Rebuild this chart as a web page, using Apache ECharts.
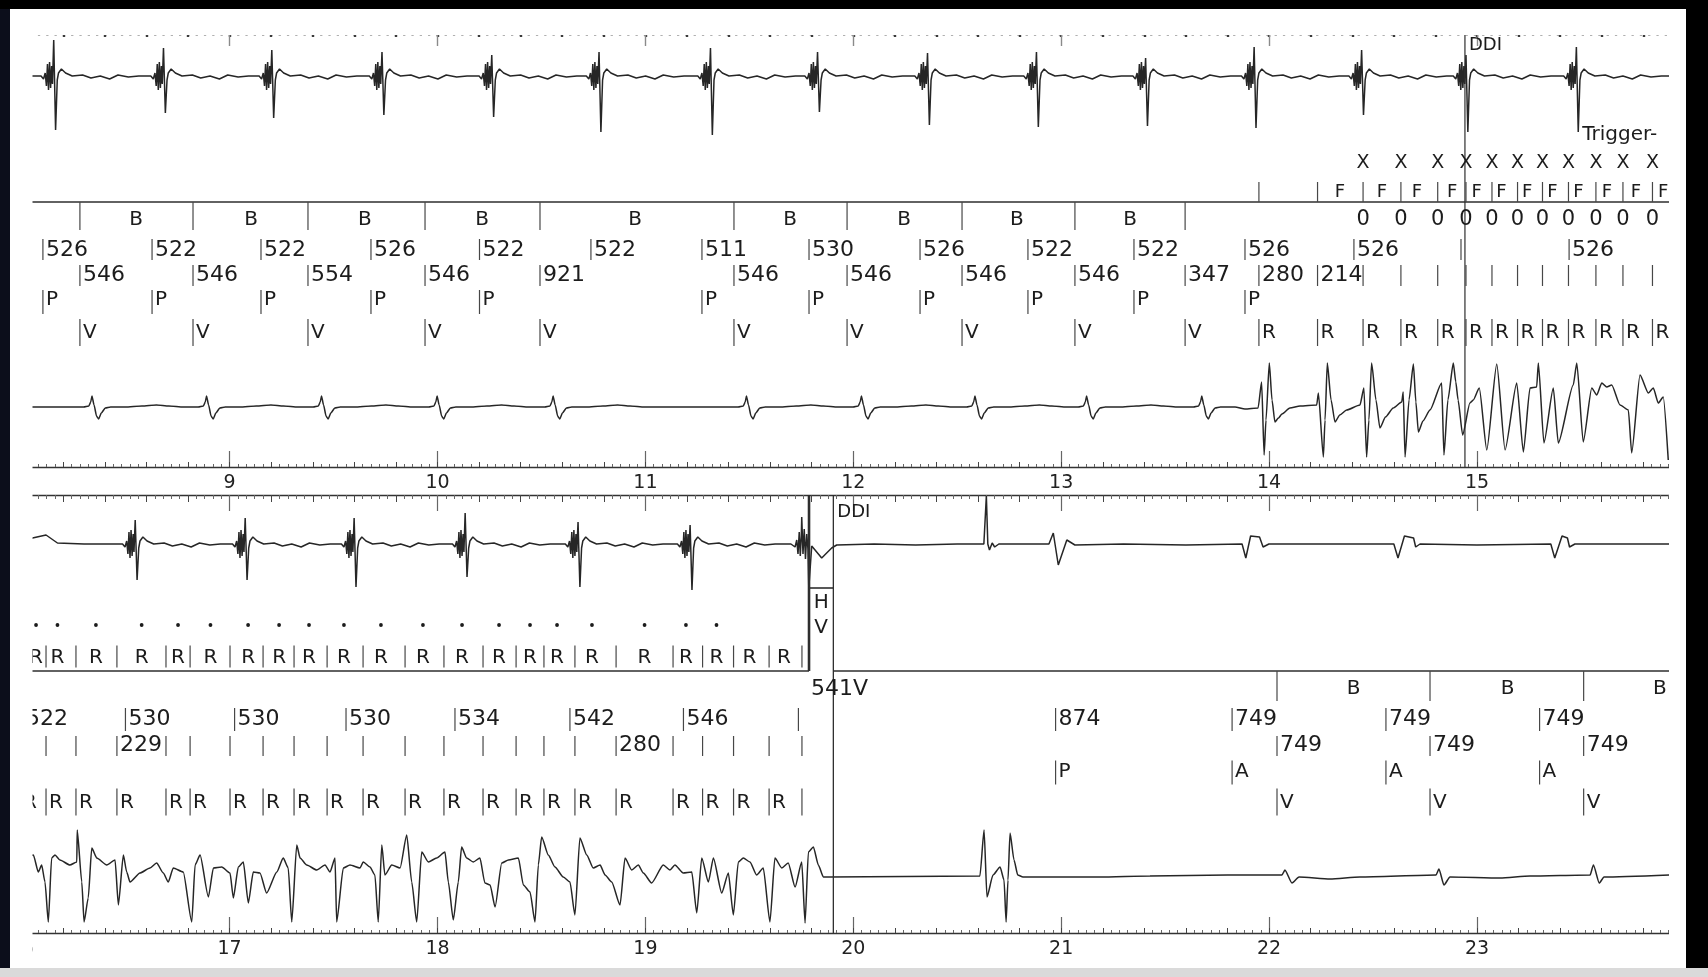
<!DOCTYPE html>
<html>
<head>
<meta charset="utf-8">
<title>Pacemaker strip: tachycardia detection and DDI mode switch</title>
<script src="https://cdn.jsdelivr.net/npm/echarts@6/dist/echarts.min.js"></script>
<style>
  html, body { margin: 0; padding: 0; background: #000; }
  #chart { width: 1708px; height: 977px; }
</style>
</head>
<body>
<div id="chart"></div>
<script>
// ---------------- Time windows of the two strips (s) ----------------
const strip1Range = [8, 16];
const strip2Range = [16, 24];

// ---------------- Paced complex morphology ----------------
// offsets in ms from the main stimulus deflection, amplitude in trace units
const pacedLead = [[-70, 0], [-58, -3], [-50, 3], [-44, -10], [-39, 12], [-34, -14], [-29, 14], [-24, -12], [-19, 10], [-15, -8]];
const pacedUpMs = -9;
const pacedTail = [[8, -4], [14, 3], [28, 7], [48, 3], [80, 0], [130, 1], [170, -2], [215, 0], [260, -3], [300, 1], [350, -1], [400, 0]];

// Sensed (narrow) ventricular complex, offsets in ms from the R peak
const sensedQrs = [[-40, 0], [-15, 1], [-6, 5], [0, 11], [10, 2], [22, -9], [32, -12], [45, -6], [64, -1], [90, 0], [160, 0], [240, 1], [310, 2], [370, 1], [440, 0]];

// ---------------- Strip 1 upper lead ----------------
const ecg1Beats = [8.163, 8.691, 9.212, 9.742, 10.270, 10.786, 11.322, 11.837, 12.366, 12.890, 13.415, 13.937, 14.454, 14.956, 15.487];
const ecg1Up    = [36, 28, 26, 24, 21, 24, 28, 24, 23, 24, 18, 29, 26, 21, 29];
const ecg1Down  = [-54, -37, -42, -39, -41, -56, -59, -36, -49, -51, -50, -52, -39, -56, -56];

// ---------------- Strip 1 lower lead ----------------
const ecg2SensedPeaks = [8.338, 8.889, 9.442, 9.998, 10.556, 11.486, 12.039, 12.585, 13.122, 13.676];
const ecg2Tachy = [
  [13.884, -2], [13.947, -1], [13.964, 25], [13.976, -48], [13.985, -13], [14.001, 44], [14.014, 7], [14.028, -15],
  [14.045, -11], [14.062, -7], [14.100, -1], [14.149, 1], [14.229, 2], [14.237, 14], [14.261, -50], [14.269, -13], [14.280, 44],
  [14.298, 7], [14.317, -15], [14.340, -8], [14.373, -3], [14.437, 2], [14.456, 19], [14.469, -50], [14.480, -13], [14.493, 44],
  [14.514, 7], [14.533, -21], [14.560, -10], [14.597, -1], [14.638, 5], [14.645, 15], [14.654, -50], [14.673, 7], [14.694, 43],
  [14.706, 5], [14.718, -25], [14.740, -14], [14.774, -3], [14.830, 24], [14.841, -48], [14.860, 7], [14.886, 44], [14.898, 25], [14.909, 7], [14.931, -28],
  [14.966, 4], [14.982, 7], [15.011, 19], [15.047, -43], [15.095, 43], [15.135, -43], [15.191, 24], [15.223, -45],
  [15.255, 19], [15.287, 20], [15.295, 44], [15.322, -36], [15.367, 19], [15.391, -36], [15.463, 22], [15.480, 44],
  [15.511, -35], [15.552, 19], [15.576, 12], [15.600, 24], [15.624, 20], [15.648, 22], [15.688, 2], [15.728, -3],
  [15.744, -46], [15.784, 32], [15.824, 14], [15.848, 19], [15.872, 4], [15.896, 10], [15.920, -53]
];

// ---------------- Strip 2 upper lead ----------------
const ecg3Lead  = [[15.99, 5], [16.052, 6], [16.117, 9], [16.172, 1], [16.30, 0]];
const ecg3Beats = [16.555, 17.084, 17.608, 18.142, 18.685, 19.224];
const ecg3Up    = [24, 26, 26, 31, 22, 19];
const ecg3Down  = [-36, -36, -43, -33, -43, -46];
const ecg3Tail = [
  [19.700, 0], [19.720, -3], [19.728, 4], [19.734, -10], [19.740, 12], [19.745, -12], [19.750, 8], [19.752, 27],
  [19.758, -10], [19.764, 15], [19.770, -15], [19.776, 10], [19.782, -5], [19.786, -44], [19.800, -2], [19.816, -6],
  [19.848, -14], [19.896, -4], [19.920, -1], [20.100, 0], [20.300, -1], [20.500, 0], [20.628, 0], [20.640, 48],
  [20.647, 0], [20.655, -6], [20.668, 1], [20.680, -3], [20.700, 0], [20.941, 0], [20.962, 11], [20.986, -21],
  [21.027, 4], [21.066, -1], [21.300, 0], [21.600, -1], [21.870, 0], [21.888, -14], [21.911, 8], [21.954, 7],
  [21.971, -3], [21.999, 0], [22.300, 0], [22.600, 0], [22.620, -14], [22.651, 8], [22.695, 6], [22.705, -3],
  [22.726, 0], [23.000, -1], [23.355, 0], [23.374, -14], [23.409, 8], [23.435, 6], [23.445, -3], [23.471, 0], [23.924, 0]
];

// ---------------- Strip 2 lower lead ----------------
const ecg4 = [
  [15.99, 10], [16.056, 15], [16.080, -2], [16.096, 5], [16.112, -12], [16.128, -52], [16.144, 12], [16.160, 15],
  [16.184, 10], [16.232, 5], [16.265, 8], [16.267, 40], [16.289, -12], [16.300, -52], [16.320, -28], [16.337, 22],
  [16.361, 12], [16.409, 5], [16.449, 10], [16.465, -35], [16.489, 15], [16.505, -2], [16.521, -12], [16.569, -3],
  [16.617, 2], [16.649, 7], [16.681, -3], [16.705, -12], [16.729, 2], [16.777, -2], [16.818, -52], [16.834, 5],
  [16.858, 15], [16.898, -27], [16.922, 2], [16.962, 3], [17.002, -3], [17.018, -28], [17.042, 3], [17.066, 8],
  [17.090, -33], [17.114, -2], [17.146, -3], [17.178, -23], [17.227, -2], [17.258, 12], [17.282, 2], [17.299, -52],
  [17.323, 25], [17.339, 12], [17.371, 5], [17.419, 0], [17.459, 5], [17.483, -2], [17.507, 12], [17.515, -52],
  [17.547, 2], [17.579, 5], [17.627, 2], [17.643, 8], [17.675, 3], [17.699, -5], [17.715, -52], [17.732, 25],
  [17.747, -5], [17.780, 5], [17.820, 2], [17.852, 35], [17.876, -12], [17.900, -52], [17.924, 18], [17.956, 8],
  [17.996, 12], [18.036, 18], [18.052, -12], [18.076, -50], [18.100, -12], [18.116, 23], [18.140, 12], [18.172, 8],
  [18.204, 12], [18.228, -13], [18.253, -15], [18.277, -37], [18.309, 7], [18.341, 10], [18.389, 12], [18.413, -15],
  [18.445, -22], [18.469, -52], [18.485, 5], [18.501, 33], [18.533, 15], [18.565, 3], [18.605, -7], [18.637, -12],
  [18.661, -45], [18.685, 32], [18.718, 15], [18.749, 2], [18.782, 5], [18.806, -5], [18.838, -12], [18.878, -35],
  [18.902, 12], [18.934, 0], [18.966, 5], [18.990, -3], [19.030, -13], [19.086, 5], [19.118, 0], [19.142, 5],
  [19.182, -3], [19.223, -2], [19.247, -43], [19.271, 12], [19.303, -12], [19.327, 12], [19.367, -23], [19.399, -3],
  [19.423, -45], [19.447, 8], [19.471, 12], [19.503, 8], [19.535, -5], [19.567, 2], [19.599, -52], [19.623, 12],
  [19.656, 2], [19.687, 7], [19.720, -17], [19.752, 8], [19.768, -53], [19.784, 18], [19.808, 23], [19.832, 5],
  [19.856, -7], [19.888, -7], [20.609, -6], [20.629, 40], [20.643, -27], [20.672, -5], [20.706, 3], [20.725, -10],
  [20.735, -52], [20.744, -10], [20.754, 37], [20.773, 10], [20.791, -5], [20.816, -7], [21.187, -7], [21.427, -6],
  [21.800, -5], [22.062, -5], [22.076, 0], [22.110, -13], [22.144, -7], [22.293, -9], [22.437, -7], [22.803, -5],
  [22.817, 1], [22.841, -15], [22.870, -7], [23.111, -8], [23.255, -6], [23.544, -5], [23.560, 5], [23.588, -13],
  [23.611, -7], [23.924, -5]
];

// ---------------- Strip 1 marker channel ----------------
const s1AtrialTimes     = [8.102, 8.627, 9.151, 9.680, 10.202, 10.738, 11.272, 11.787, 12.321, 12.840, 13.350, 13.884, 14.408, 14.923, 15.443];
const s1AtrialIntervals = ['526', '522', '522', '526', '522', '522', '511', '530', '526', '522', '522', '526', '526', '', '526'];
const s1AtrialMarks     = ['P', 'P', 'P', 'P', 'P', '', 'P', 'P', 'P', 'P', 'P', 'P', '', '', ''];
const s1VentTimes       = [8.280, 8.824, 9.377, 9.940, 10.493, 11.426, 11.970, 12.523, 13.066, 13.596];
const s1VentIntervals   = ['546', '546', '554', '546', '921', '546', '546', '546', '546', '347'];
const s1BlankingCentres = [8.550, 9.103, 9.651, 10.214, 10.950, 11.696, 12.244, 12.787, 13.331];
const s1SenseTimes      = [13.951, 14.233, 14.452, 14.634, 14.811, 14.947, 15.072, 15.195, 15.315, 15.440, 15.572, 15.702, 15.844];
const s1SenseIntervals  = ['280', '214', '', '', '', '', '', '', '', '', '', '', ''];
const s1FibCentres      = [14.341, 14.543, 14.711, 14.880, 14.998, 15.118, 15.241, 15.363, 15.488, 15.625, 15.765, 15.895];
const s1CountedTimes    = s1SenseTimes.slice(2);
const s1ModeSwitch      = 14.942;

// ---------------- Strip 2 marker channel ----------------
const s2Ticks           = [15.992, 16.117, 16.261, 16.458, 16.694, 16.810, 17.002, 17.161, 17.310, 17.469, 17.642, 17.844, 18.031, 18.219, 18.378, 18.512, 18.661, 18.859, 19.133, 19.275, 19.424, 19.595, 19.753];
const s2TickIntervals   = ['', '', '', '229', '', '', '', '', '', '', '', '', '', '', '', '', '', '280', '', '', '', '', ''];
const s2SenseCentres    = [16.069, 16.172, 16.357, 16.577, 16.752, 16.908, 17.089, 17.238, 17.382, 17.550, 17.728, 17.930, 18.118, 18.296, 18.445, 18.575, 18.743, 18.996, 19.195, 19.342, 19.501, 19.667];
const s2DottedCount     = 20;
const s2AtrialTimes     = [16.006, 16.499, 17.024, 17.560, 18.084, 18.637, 19.183, 19.736, 20.973, 21.822, 22.562, 23.301];
const s2AtrialIntervals = ['522', '530', '530', '530', '534', '542', '546', '', '874', '749', '749', '749'];
const s2AtrialMarks     = ['', '', '', '', '', '', '', '', 'P', 'A', 'A', 'A'];
const s2VentTimes       = [22.038, 22.774, 23.513];
const s2VentIntervals   = ['749', '749', '749'];
const s2BlankingCentres = [22.407, 23.147, 23.879];
const s2HvWindow        = [19.787, 19.904];
const s2HvValue         = '541V';

// ---------------- Look ----------------
const INK = '#1c1c1c';
const TRACE = '#262626';
const TICK = '#474747';
const FONT = '"DejaVu Sans", "Liberation Sans", sans-serif';
const fNum = '22px ' + FONT;
const fLet = '20px ' + FONT;
const fF = '18px ' + FONT;
const fX = '19px ' + FONT;
const fZero = '21px ' + FONT;
const fSmall = '18px ' + FONT;

// Row positions inside each marker channel (px below the channel top)
const rows1 = { ddi: 10, trigger: 100, x: 128, f: 157, line: 167, b: 185, aNum: 215, vNum: 240, p: 265, v: 298, end: 432 };
const rows2 = { ddi: 17, hvTop: 93, h: 108, hv: 133, dot: 130, r: 162.5, line: 176, b: 194, aNum: 224, vNum: 250, p: 276.5, v: 307.5, end: 438 };

// ---------------- Builders ----------------
const r4 = v => Math.round(v * 10000) / 10000;

function pacedTrace(times, ups, downs) {
  const pts = [];
  times.forEach((t, i) => {
    pacedLead.forEach(([ms, a]) => pts.push([r4(t + ms / 1000), a]));
    pts.push([r4(t + pacedUpMs / 1000), ups[i]]);
    pts.push([t, downs[i]]);
    pacedTail.forEach(([ms, a]) => pts.push([r4(t + ms / 1000), a]));
  });
  return pts;
}
function sensedTrace(times, shape) {
  return times.flatMap(t => shape.map(([ms, a]) => [r4(t + ms / 1000), a]));
}

const ecg1Data = [[8, 0], ...pacedTrace(ecg1Beats, ecg1Up, ecg1Down), [16, 0]];
const ecg2Data = [[8, 0], ...sensedTrace(ecg2SensedPeaks, sensedQrs).filter(p => p[0] < ecg2Tachy[0][0]), ...ecg2Tachy];
const ecg3Data = [...ecg3Lead, ...pacedTrace(ecg3Beats, ecg3Up, ecg3Down), ...ecg3Tail];

function traceSeries(xi, yi, data, smooth) {
  return {
    type: 'line', xAxisIndex: xi, yAxisIndex: yi, data,
    symbol: 'none', showSymbol: false, clip: false, animation: false, silent: true, z: 3,
    smooth: smooth || false, smoothMonotone: 'x',
    lineStyle: { color: TRACE, width: 1.5 }
  };
}

// One row of the annotation channel: optional tick, optional dot, optional text per event
function markRow(xi, yi, times, texts, row, o) {
  return {
    type: 'custom', xAxisIndex: xi, yAxisIndex: yi, clip: false, silent: true, animation: false, z: 4,
    data: times.map(t => [t, row]),
    renderItem(params, api) {
      const p = api.coord([api.value(0), api.value(1)]);
      const kids = [];
      if (o.tick) {
        kids.push({ type: 'line', shape: { x1: p[0], y1: p[1] + o.tick[0], x2: p[0], y2: p[1] + o.tick[1] },
          style: { stroke: TICK, lineWidth: o.tickWidth || 1.2 } });
      }
      if (o.dot) {
        kids.push({ type: 'circle', shape: { cx: p[0], cy: p[1], r: o.dot }, style: { fill: INK } });
      }
      const s = texts == null ? '' : (typeof texts === 'string' ? texts : texts[params.dataIndex]);
      if (s) {
        kids.push({ type: 'text', x: p[0] + (o.dx || 0), y: p[1],
          style: { text: s, font: o.font, fill: INK, align: o.align || 'left', verticalAlign: 'middle' } });
      }
      return { type: 'group', children: kids };
    }
  };
}

// Straight rules of the channel (baseline, mode-switch line, HV window)
function ruleSeries(xi, yi, segs, width) {
  return {
    type: 'custom', xAxisIndex: xi, yAxisIndex: yi, clip: false, silent: true, animation: false, z: 4,
    data: segs,
    renderItem(params, api) {
      const a = api.coord([api.value(0), api.value(1)]);
      const b = api.coord([api.value(2), api.value(3)]);
      return { type: 'line', shape: { x1: a[0], y1: a[1], x2: b[0], y2: b[1] },
        style: { stroke: '#2e2e2e', lineWidth: width } };
    }
  };
}

const pick = (times, marks) => times.filter((_, i) => marks[i]);
const pickMarks = marks => marks.filter(m => m);

// ---------------- Axes ----------------
const GRID_X = { left: 21.7, width: 1663.2 };
const grids = [
  { top: 35, height: 100 },   // 0 strip 1 upper lead
  { top: 35, height: 432 },   // 1 strip 1 marker channel
  { top: 355, height: 112 },  // 2 strip 1 lower lead
  { top: 495, height: 100 },  // 3 strip 2 upper lead
  { top: 495, height: 438 },  // 4 strip 2 marker channel
  { top: 820, height: 113 }   // 5 strip 2 lower lead
].map(g => Object.assign({ show: false, containLabel: false, outerBoundsMode: 'none' }, GRID_X, g));

const hidden = () => ({
  axisLine: { show: false, onZero: false }, axisTick: { show: false }, axisLabel: { show: false },
  splitLine: { show: false }, minorTick: { show: false }, minorSplitLine: { show: false }
});
function xAx(gridIndex, range, position, extra) {
  const ax = Object.assign({ type: 'value', gridIndex, min: range[0], max: range[1], position }, hidden(), extra || {});
  ax.axisLine = Object.assign({ onZero: false }, ax.axisLine);
  return ax;
}
function yAx(gridIndex, min, max, inverse) {
  return Object.assign({ type: 'value', gridIndex, min, max, inverse: !!inverse }, hidden());
}
const secLabel = v => (Math.abs(v - Math.round(v)) < 1e-6 ? String(Math.round(v)) : '');
const labelStyle = { show: true, formatter: secLabel, fontFamily: FONT, fontSize: 19, color: '#222', margin: 7 };
const rulerLine = { show: true, onZero: false, lineStyle: { color: '#333', width: 1.4 } };

const xAxes = [
  // 0: dotted ruler above strip 1
  xAx(0, strip1Range, 'top', {
    interval: 0.2,
    axisLine: { show: true, onZero: false, lineStyle: { color: '#b0b0b0', width: 1, type: [1.5, 6.8] } },
    axisTick: { show: true, inside: true, length: 2, lineStyle: { color: '#3a3a3a', width: 2.4 } }
  }),
  // 1, 2: second marks of strip 1
  xAx(1, strip1Range, 'top', { interval: 1, axisTick: { show: true, inside: true, length: 11, lineStyle: { color: '#8a8a8a', width: 1.4 } } }),
  xAx(1, strip1Range, 'bottom', { interval: 1, axisTick: { show: true, inside: true, length: 16, lineStyle: { color: '#666', width: 1.2 } } }),
  // 3: time ruler under strip 1
  xAx(2, strip1Range, 'bottom', {
    interval: 0.2, axisLine: rulerLine,
    axisTick: { show: true, inside: true, length: 5, lineStyle: { color: '#444', width: 1 } },
    minorTick: { show: true, splitNumber: 5, length: 3, lineStyle: { color: '#666', width: 1 } },
    axisLabel: labelStyle
  }),
  // 4: ruler above strip 2
  xAx(3, strip2Range, 'top', {
    interval: 0.2, axisLine: rulerLine,
    axisTick: { show: true, inside: true, length: 7, lineStyle: { color: '#444', width: 1 } },
    minorTick: { show: true, splitNumber: 5, length: 4, lineStyle: { color: '#666', width: 1 } }
  }),
  // 5, 6: second marks of strip 2
  xAx(4, strip2Range, 'top', { interval: 1, axisTick: { show: true, inside: true, length: 16, lineStyle: { color: '#666', width: 1.2 } } }),
  xAx(4, strip2Range, 'bottom', { interval: 1, axisTick: { show: true, inside: true, length: 16, lineStyle: { color: '#666', width: 1.2 } } }),
  // 7: time ruler under strip 2
  xAx(5, strip2Range, 'bottom', {
    interval: 0.2, axisLine: rulerLine,
    axisTick: { show: true, inside: true, length: 5, lineStyle: { color: '#444', width: 1 } },
    minorTick: { show: true, splitNumber: 5, length: 3, lineStyle: { color: '#666', width: 1 } },
    axisLabel: labelStyle
  })
];
const yAxes = [
  yAx(0, -59, 41), yAx(1, 0, rows1.end, true), yAx(2, -60, 52),
  yAx(3, -51, 49), yAx(4, 0, rows2.end, true), yAx(5, -63, 50)
];

// ---------------- Series ----------------
const A1 = [1, 1], A2 = [5, 4];
const lastPaced = ecg1Beats[ecg1Beats.length - 1];
const hvMid = (s2HvWindow[0] + s2HvWindow[1]) / 2;

const series = [
  traceSeries(0, 0, ecg1Data),
  traceSeries(3, 2, ecg2Data, 0.2),
  traceSeries(4, 3, ecg3Data),
  traceSeries(7, 5, ecg4, 0.2),

  // strip 1 channel
  ruleSeries(...A1, [[strip1Range[0], rows1.line, strip1Range[1], rows1.line]], 1.6),
  ruleSeries(...A1, [[s1ModeSwitch, 0, s1ModeSwitch, rows1.end]], 1.2),
  markRow(...A1, [s1ModeSwitch], 'DDI', rows1.ddi, { font: fSmall, dx: 4 }),
  markRow(...A1, [lastPaced], 'Trigger-', rows1.trigger, { font: fLet, dx: 4 }),
  markRow(...A1, s1CountedTimes, 'X', rows1.x, { font: fX, align: 'center' }),
  markRow(...A1, s1SenseTimes, null, rows1.line, { tick: [-20, 0] }),
  markRow(...A1, s1FibCentres, 'F', rows1.f, { font: fF, align: 'center' }),
  markRow(...A1, s1VentTimes, null, rows1.line, { tick: [0, 28] }),
  markRow(...A1, s1BlankingCentres, 'B', rows1.b, { font: fLet, align: 'center' }),
  markRow(...A1, s1CountedTimes, '0', rows1.b, { font: fZero, align: 'center' }),
  markRow(...A1, s1AtrialTimes, s1AtrialIntervals, rows1.aNum, { tick: [-11, 10], font: fNum, dx: 3 }),
  markRow(...A1, s1VentTimes, s1VentIntervals, rows1.vNum, { tick: [-10, 11], font: fNum, dx: 3 }),
  markRow(...A1, s1SenseTimes, s1SenseIntervals, rows1.vNum, { tick: [-10, 11], font: fNum, dx: 3 }),
  markRow(...A1, pick(s1AtrialTimes, s1AtrialMarks), pickMarks(s1AtrialMarks), rows1.p, { tick: [-10, 14], font: fLet, dx: 3 }),
  markRow(...A1, s1VentTimes, 'V', rows1.v, { tick: [-14, 13], font: fLet, dx: 3 }),
  markRow(...A1, s1SenseTimes, 'R', rows1.v, { tick: [-14, 13], font: fLet, dx: 3 }),

  // strip 2 channel
  ruleSeries(...A2, [
    [strip2Range[0], rows2.line, s2HvWindow[0], rows2.line],
    [s2HvWindow[1], rows2.line, strip2Range[1], rows2.line],
    [s2HvWindow[0], rows2.hvTop, s2HvWindow[1], rows2.hvTop]
  ], 1.6),
  ruleSeries(...A2, [[s2HvWindow[0], 0, s2HvWindow[0], rows2.line]], 2.6),
  ruleSeries(...A2, [[s2HvWindow[1], 0, s2HvWindow[1], rows2.end]], 1.3),
  markRow(...A2, [s2HvWindow[1]], 'DDI', rows2.ddi, { font: fSmall, dx: 4 }),
  markRow(...A2, [hvMid], 'H', rows2.h, { font: fLet, align: 'center' }),
  markRow(...A2, [hvMid], 'V', rows2.hv, { font: fLet, align: 'center' }),
  markRow(...A2, [s2HvWindow[0]], s2HvValue, rows2.b, { font: fNum, dx: 2 }),
  markRow(...A2, s2SenseCentres.slice(0, s2DottedCount), null, rows2.dot, { dot: 1.9 }),
  markRow(...A2, s2SenseCentres, 'R', rows2.r, { font: fLet, align: 'center' }),
  markRow(...A2, s2Ticks, null, rows2.r, { tick: [-12, 10] }),
  markRow(...A2, s2VentTimes, null, rows2.line, { tick: [0, 30] }),
  markRow(...A2, s2BlankingCentres, 'B', rows2.b, { font: fLet, align: 'center' }),
  markRow(...A2, s2AtrialTimes, s2AtrialIntervals, rows2.aNum, { tick: [-11, 12], font: fNum, dx: 3 }),
  markRow(...A2, s2Ticks, s2TickIntervals, rows2.vNum, { tick: [-9, 11], font: fNum, dx: 3 }),
  markRow(...A2, s2VentTimes, s2VentIntervals, rows2.vNum, { tick: [-9, 11], font: fNum, dx: 3 }),
  markRow(...A2, pick(s2AtrialTimes, s2AtrialMarks), pickMarks(s2AtrialMarks), rows2.p, { tick: [-11, 13], font: fLet, dx: 3 }),
  markRow(...A2, s2Ticks, s2Ticks.map((_, i) => (i < s2Ticks.length - 1 ? 'R' : '')), rows2.v, { tick: [-14, 13], font: fLet, dx: 3 }),
  markRow(...A2, s2VentTimes, 'V', rows2.v, { tick: [-14, 13], font: fLet, dx: 3 })
];

// ---------------- Paper edges ----------------
const PAPER = { x0: 10, y0: 9, x1: 1686, y1: 968, clipL: 32.5, clipR: 1669 };
const graphic = [
  { type: 'rect', silent: true, z: 100, shape: { x: PAPER.x0, y: PAPER.y0, width: PAPER.clipL - PAPER.x0, height: PAPER.y1 - PAPER.y0 }, style: { fill: '#fff' } },
  { type: 'rect', silent: true, z: 100, shape: { x: PAPER.clipR, y: PAPER.y0, width: PAPER.x1 - PAPER.clipR, height: PAPER.y1 - PAPER.y0 }, style: { fill: '#fff' } },
  { type: 'rect', silent: true, z: 101, shape: { x: 0, y: 0, width: 1708, height: PAPER.y0 }, style: { fill: '#000' } },
  { type: 'rect', silent: true, z: 101, shape: { x: 0, y: PAPER.y0, width: PAPER.x0, height: PAPER.y1 - PAPER.y0 }, style: { fill: '#0c0e1b' } },
  { type: 'rect', silent: true, z: 101, shape: { x: PAPER.x1, y: PAPER.y0, width: 1708 - PAPER.x1, height: PAPER.y1 - PAPER.y0 }, style: { fill: '#000' } },
  { type: 'rect', silent: true, z: 101, shape: { x: 0, y: PAPER.y1, width: 1708, height: 977 - PAPER.y1 }, style: { fill: '#dadada' } }
];

const chart = echarts.init(document.getElementById('chart'), null, { renderer: 'canvas' });
chart.setOption({
  backgroundColor: '#ffffff',
  animation: false,
  grid: grids,
  xAxis: xAxes,
  yAxis: yAxes,
  series,
  graphic
});
</script>
</body>
</html>
